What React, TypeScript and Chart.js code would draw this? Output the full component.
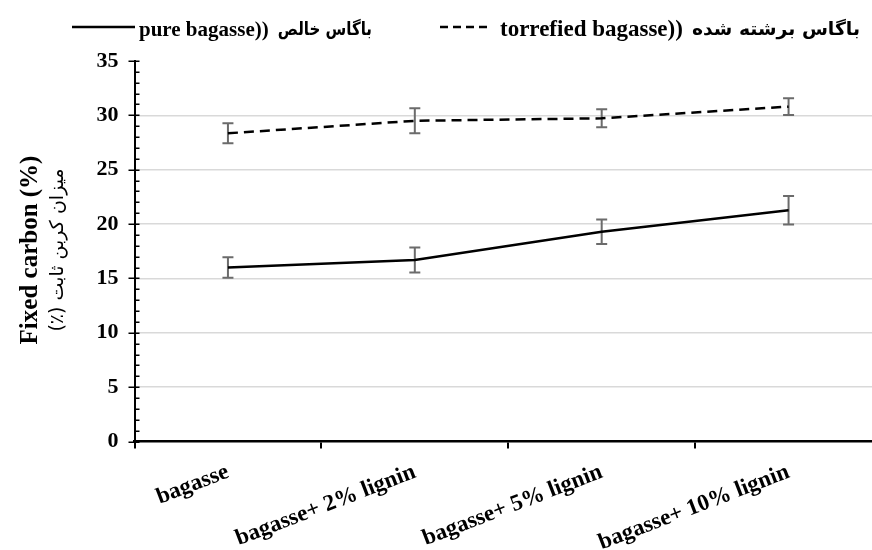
import React, { useEffect, useRef } from "react";
import { Chart, registerables } from "chart.js";

Chart.register(...registerables);

const categories = ["bagasse", "bagasse+ 2% lignin", "bagasse+ 5% lignin", "bagasse+ 10% lignin"];
const pureValues = [16.0, 16.7, 19.3, 21.27];
const pureErrors = [0.94, 1.15, 1.13, 1.32];
const torrefiedValues = [28.35, 29.5, 29.73, 30.8];
const torrefiedErrors = [0.92, 1.15, 0.83, 0.77];
const yMin = 0;
const yMax = 35;
const yStep = 5;
const yMinorStep = 1;
const pureLegendLatin = "pure bagasse))";
const pureLegendArabic = "باگاس خالص";
const torrefiedLegendLatin = "torrefied bagasse))";
const torrefiedLegendArabic = "باگاس برشته شده";
const yTitleLatin = "Fixed carbon (%)";
const yTitleArabic = "میزان کربن ثابت (٪)";

const SERIF = "'Liberation Serif', 'Times New Roman', serif";
const ARABIC = "'DejaVu Sans', sans-serif";

const decorPlugin = {
  id: "decor",
  beforeDatasetsDraw(chart: any) {
    const ctx = chart.ctx;
    const xs = chart.scales.x;
    const ys = chart.scales.y;
    const sets: [number[], number[]][] = [
      [pureValues, pureErrors],
      [torrefiedValues, torrefiedErrors],
    ];
    ctx.save();
    ctx.strokeStyle = "#6b6b6b";
    ctx.lineWidth = 2;
    const cap = 5.5;
    sets.forEach(([vals, errs]) => {
      vals.forEach((v, i) => {
        const px = xs.getPixelForValue(i);
        const top = ys.getPixelForValue(v + errs[i]);
        const bot = ys.getPixelForValue(v - errs[i]);
        ctx.beginPath();
        ctx.moveTo(px, top);
        ctx.lineTo(px, bot);
        ctx.moveTo(px - cap, top);
        ctx.lineTo(px + cap, top);
        ctx.moveTo(px - cap, bot);
        ctx.lineTo(px + cap, bot);
        ctx.stroke();
      });
    });
    ctx.restore();
  },
  afterDraw(chart: any) {
    const ctx = chart.ctx;
    const ys = chart.scales.y;
    const area = chart.chartArea;
    ctx.save();
    // y-axis tick marks (major crossing, minor inside)
    ctx.strokeStyle = "#000";
    ctx.lineWidth = 1.5;
    for (let v = yMin; v <= yMax; v += yMinorStep) {
      const py = Math.round(ys.getPixelForValue(v)) + 0.25;
      const major = v % yStep === 0;
      ctx.beginPath();
      ctx.moveTo(area.left - (major ? 6 : 0), py);
      ctx.lineTo(area.left + 5, py);
      ctx.stroke();
    }

    // legend
    const ly = 27;
    ctx.lineWidth = 2.5;
    ctx.beginPath();
    ctx.moveTo(72, ly);
    ctx.lineTo(135, ly);
    ctx.stroke();
    ctx.setLineDash([8, 5]);
    ctx.beginPath();
    ctx.moveTo(440, ly);
    ctx.lineTo(490, ly);
    ctx.stroke();
    ctx.setLineDash([]);

    ctx.fillStyle = "#000";
    ctx.textBaseline = "alphabetic";
    const drawItem = (latin: string, latinX: number, latinSize: number, arabic: string, arabicRight: number) => {
      ctx.font = `bold ${latinSize}px ${SERIF}`;
      ctx.direction = "ltr";
      ctx.textAlign = "left";
      const lw = ctx.measureText(latin).width;
      ctx.fillText(latin, latinX, 36);
      const aLeft = latinX + lw + 9;
      const target = arabicRight - aLeft;
      ctx.font = `bold 18px ${ARABIC}`;
      ctx.direction = "rtl";
      ctx.textAlign = "right";
      const aw = ctx.measureText(arabic).width;
      const sx = Math.min(1.1, target / aw);
      ctx.save();
      ctx.translate(arabicRight, 35);
      ctx.scale(sx, 1);
      ctx.fillText(arabic, 0, 0);
      ctx.restore();
    };
    drawItem(pureLegendLatin, 139, 21, pureLegendArabic, 372);
    drawItem(torrefiedLegendLatin, 500, 23, torrefiedLegendArabic, 860);

    // y title
    const cy = 250;
    ctx.save();
    ctx.translate(31, cy);
    ctx.rotate(-Math.PI / 2);
    ctx.direction = "ltr";
    ctx.textAlign = "center";
    ctx.textBaseline = "middle";
    ctx.font = `bold 25px ${SERIF}`;
    ctx.fillText(yTitleLatin, 0, 0);
    ctx.restore();
    ctx.save();
    ctx.translate(58, cy);
    ctx.rotate(-Math.PI / 2);
    ctx.direction = "rtl";
    ctx.textAlign = "center";
    ctx.textBaseline = "middle";
    ctx.font = `19px ${ARABIC}`;
    ctx.fillText(yTitleArabic, 0, 0);
    ctx.restore();

    ctx.restore();
  },
};

export default function App() {
  const ref = useRef<HTMLCanvasElement | null>(null);
  useEffect(() => {
    if (!ref.current) return;
    const chart = new Chart(ref.current, {
      type: "line",
      data: {
        labels: categories,
        datasets: [
          {
            label: "pure bagasse",
            data: pureValues,
            borderColor: "#000",
            borderWidth: 2.5,
            pointRadius: 0,
            tension: 0,
            fill: false,
          },
          {
            label: "torrefied bagasse",
            data: torrefiedValues,
            borderColor: "#000",
            borderWidth: 2.5,
            borderDash: [10, 6],
            pointRadius: 0,
            tension: 0,
            fill: false,
          },
        ],
      },
      options: {
        responsive: false,
        animation: false,
        devicePixelRatio: 1,
        layout: { padding: { left: 0, right: 8, top: 61, bottom: 0 } },
        plugins: { legend: { display: false }, tooltip: { enabled: false }, title: { display: false } },
        scales: {
          x: {
            type: "category",
            offset: true,
            afterFit: (s: any) => {
              s.height = 108.5;
            },
            border: { display: true, color: "#000", width: 2.5 },
            grid: {
              offset: true,
              drawOnChartArea: false,
              drawTicks: true,
              tickLength: 7,
              color: "#000",
              lineWidth: 2,
            },
            ticks: {
              color: "#000",
              font: { family: SERIF, size: 23, weight: "bold" },
              minRotation: 21,
              maxRotation: 21,
              autoSkip: false,
              padding: 10,
            },
          },
          y: {
            min: yMin,
            max: yMax,
            afterFit: (s: any) => {
              s.width = 134.5;
            },
            border: { display: true, color: "#000", width: 2 },
            grid: {
              drawTicks: false,
              lineWidth: 1.5,
              color: (c: any) =>
                c.tick && c.tick.value !== yMin && c.tick.value !== yMax ? "#d9d9d9" : "rgba(0,0,0,0)",
            },
            ticks: {
              stepSize: yStep,
              color: "#000",
              padding: 16,
              font: { family: SERIF, size: 22, weight: "bold" },
            },
          },
        },
      },
      plugins: [decorPlugin],
    } as any);
    return () => chart.destroy();
  }, []);
  return (
    <div style={{ position: "fixed", left: 0, top: 0, width: 872, height: 550, overflow: "hidden", background: "#fff" }}>
      <canvas ref={ref} width={890} height={550} style={{ display: "block" }} />
    </div>
  );
}
